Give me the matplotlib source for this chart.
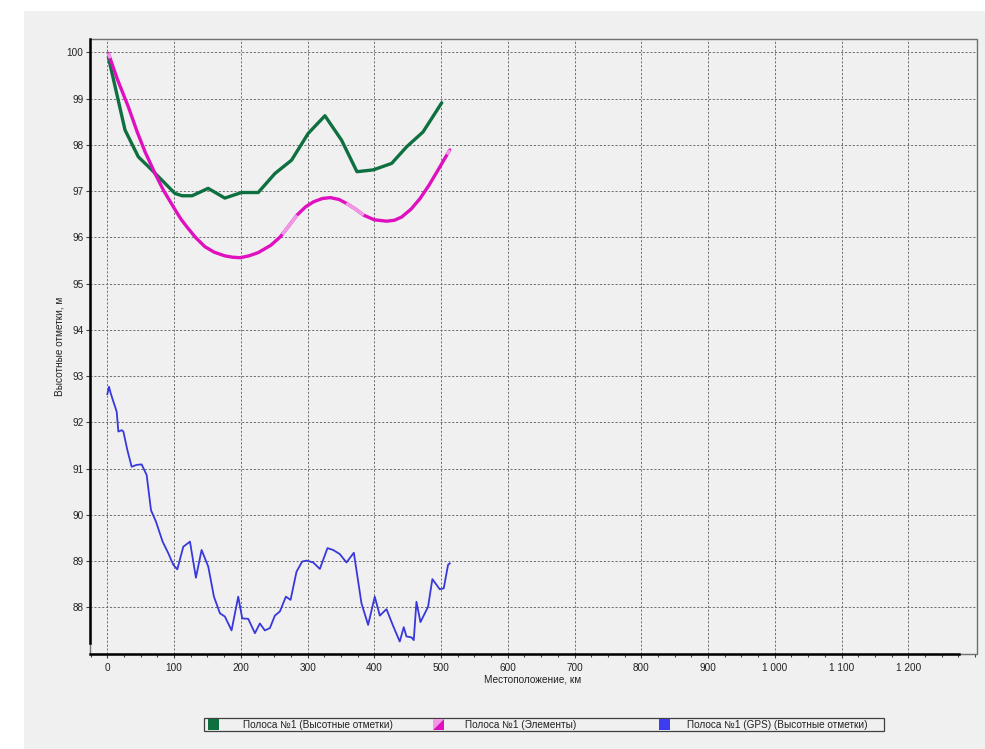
import numpy as np
import matplotlib
matplotlib.use("Agg")
import matplotlib.pyplot as plt
from matplotlib.patches import Rectangle, Polygon
from matplotlib.ticker import MultipleLocator, FuncFormatter

# ---------------- data ----------------
green_km = [1.5, 14, 26.5, 46.5, 61.5, 81.5, 96.5, 101.4, 112, 127, 151, 176, 201, 226, 251, 276,
            301, 326, 351, 374, 398.5, 426, 448.5, 473, 501]
green_m = [99.9, 99.11, 98.32, 97.74, 97.53, 97.24, 97.02, 96.95, 96.90, 96.90, 97.06, 96.85, 96.97,
           96.97, 97.38, 97.67, 98.25, 98.63, 98.10, 97.42, 97.46, 97.60, 97.96, 98.28, 98.91]

elem_km = [1.5, 15, 31.5, 45, 56.5, 71.5, 84, 101.4, 110, 119, 132, 146, 160, 176, 188, 199, 212,
           226, 245, 259, 272, 284, 297, 309, 322, 334, 347, 359, 372, 384, 400, 418.5, 430, 441,
           455, 468.5, 482, 496, 513]
elem_m = [99.98, 99.42, 98.82, 98.27, 97.85, 97.38, 97.02, 96.60, 96.40, 96.23, 96.00, 95.80, 95.68,
          95.60, 95.57, 95.56, 95.60, 95.67, 95.83, 96.01, 96.25, 96.48, 96.66, 96.77, 96.84, 96.86,
          96.82, 96.73, 96.61, 96.48, 96.38, 96.35, 96.37, 96.44, 96.61, 96.84, 97.13, 97.47, 97.89]
# stretches of the element line drawn in the light tone (km ranges)
elem_light = [(0, 4), (262, 284), (358, 384), (509, 513)]

gps_km = [0.0, 2.5, 5.0, 9.0, 14.0, 16.5, 21.5, 24.0, 30.0, 36.4, 43.9, 51.4, 58.9, 65.4, 72.9, 82.8,
          91.3, 98.8, 104.8, 113.8, 123.8, 132.7, 141.2, 151.2, 159.7, 168.7, 176.1, 186.1, 196.1,
          202.1, 211.1, 221.1, 228.5, 236.0, 243.5, 251.0, 258.5, 267.5, 274.5, 283.4, 291.9, 298.4,
          308.4, 318.4, 329.8, 338.3, 348.3, 358.3, 369.3, 380.7, 390.7, 400.7, 408.2, 418.2, 428.1,
          438.1, 444.1, 448.1, 455.6, 459.1, 463.1, 469.1, 480.5, 487.0, 498.0, 504.0, 510.5, 513.0]
gps_m = [92.61, 92.77, 92.63, 92.45, 92.23, 91.80, 91.83, 91.80, 91.40, 91.04, 91.08, 91.09, 90.86,
         90.10, 89.85, 89.42, 89.17, 88.92, 88.82, 89.31, 89.42, 88.64, 89.24, 88.88, 88.23, 87.87,
         87.80, 87.50, 88.23, 87.76, 87.75, 87.44, 87.65, 87.50, 87.55, 87.82, 87.91, 88.23, 88.16,
         88.77, 88.99, 89.01, 88.97, 88.83, 89.28, 89.24, 89.15, 88.97, 89.18, 88.09, 87.62, 88.23,
         87.82, 87.96, 87.60, 87.26, 87.57, 87.37, 87.35, 87.29, 88.12, 87.68, 88.01, 88.61, 88.39,
         88.41, 88.92, 88.95]

legend_labels = ["Полоса №1 (Высотные отметки)", "Полоса №1 (Элементы)",
                 "Полоса №1 (GPS) (Высотные отметки)"]
x_label = "Местоположение, км"
y_label = "Высотные отметки, м"

# ---------------- style ----------------
W, H = 985, 749
C_GREEN = "#0e7040"
C_MAG = "#e010c0"
C_PINK = "#f298e6"
C_BLUE = "#3838dc"
BG = "#f0f0f0"
FONT = "Liberation Sans"
plt.rcParams["font.family"] = [FONT, "DejaVu Sans"]

fig = plt.figure(figsize=(W / 100, H / 100), dpi=100, facecolor="white")


def fx(px):
    return px / W


def fy(py):
    return 1 - py / H


# gray panel
fig.patches.append(Rectangle((fx(24), 0), fx(985) - fx(24), fy(11), transform=fig.transFigure,
                             facecolor=BG, edgecolor="none", zorder=-10))

ax = fig.add_axes([fx(90), fy(654), fx(977) - fx(90), fy(39) - fy(654)])
ax.set_facecolor(BG)

xmin, xmax = -26, 1303
ymin, ymax = 86.99, 100.29
ax.set_xlim(xmin, xmax)
ax.set_ylim(ymin, ymax)

# grid
ax.set_xticks(np.arange(0, 1201, 100))
ax.set_yticks(np.arange(88, 101, 1))
ax.xaxis.set_minor_locator(MultipleLocator(25))
ax.grid(True, which="major", color="#707070", linestyle=(0, (2.2, 1.8)), linewidth=0.7)
ax.set_axisbelow(True)

# frame
for s in ax.spines.values():
    s.set_visible(False)
ax.add_patch(Rectangle((0, 0), 1, 1, transform=ax.transAxes, fill=False,
                       edgecolor="#707070", linewidth=1.0, clip_on=False, zorder=1))
ax.spines["left"].set_visible(True)
ax.spines["bottom"].set_visible(True)
ax.spines["left"].set_color("black")
ax.spines["bottom"].set_color("black")
ax.spines["left"].set_linewidth(1.8)
ax.spines["bottom"].set_linewidth(1.8)
ax.spines["left"].set_bounds(87.23, ymax)
ax.spines["bottom"].set_bounds(xmin, 1276)

ax.tick_params(axis="both", which="major", direction="out", length=3.2, width=0.8,
               color="#404040", labelsize=7.2, labelcolor="#222222")
ax.tick_params(axis="x", which="major", pad=3)
ax.tick_params(axis="y", which="major", pad=1.5)
ax.tick_params(axis="x", which="minor", direction="out", length=2.2, width=0.8, color="#404040")


def fmt_x(v, pos):
    return f"{int(v):,}".replace(",", " ")


ax.xaxis.set_major_formatter(FuncFormatter(fmt_x))

# series
ax.plot(green_km, green_m, color=C_GREEN, linewidth=2.4, solid_joinstyle="round",
        solid_capstyle="round", zorder=3)
ax.plot(elem_km, elem_m, color=C_MAG, linewidth=2.4, solid_joinstyle="round",
        solid_capstyle="round", zorder=4)
for a, b in elem_light:
    xs = np.linspace(max(a, elem_km[0]), min(b, elem_km[-1]), 12)
    ys = np.interp(xs, elem_km, elem_m)
    ax.plot(xs, ys, color=C_PINK, linewidth=2.4, solid_capstyle="butt", zorder=5)
ax.plot(gps_km, gps_m, color=C_BLUE, linewidth=1.3, solid_joinstyle="round", zorder=3)

# axis labels
fig.text(fx(533), fy(680), x_label, ha="center", va="center", fontsize=7.2, color="#222222")
fig.text(fx(60), fy(346), y_label, ha="center", va="center", rotation=90, fontsize=7.2,
         color="#222222")

# legend box (drawn manually)
lx0, lx1, ly0, ly1 = 204, 884, 718, 731
fig.patches.append(Rectangle((fx(lx0), fy(ly1)), fx(lx1) - fx(lx0), fy(ly0) - fy(ly1),
                             transform=fig.transFigure, facecolor=BG, edgecolor="#404040",
                             linewidth=0.9, zorder=2))
sq = [(208, C_GREEN), (433, None), (659, "#3c3cf0")]
txt_x = [243, 465, 687]
for (sx, col), tx, lab in zip(sq, txt_x, legend_labels):
    x0, x1, y0, y1 = sx, sx + 11, ly0 + 1, ly1 - 1
    if col is not None:
        fig.patches.append(Rectangle((fx(x0), fy(y1)), fx(x1) - fx(x0), fy(y0) - fy(y1),
                                     transform=fig.transFigure, facecolor=col,
                                     edgecolor="none", zorder=3))
    else:
        fig.patches.append(Polygon([(fx(x0), fy(y0)), (fx(x1), fy(y0)), (fx(x0), fy(y1))],
                                   closed=True, transform=fig.transFigure, facecolor=C_PINK,
                                   edgecolor="none", zorder=3))
        fig.patches.append(Polygon([(fx(x1), fy(y0)), (fx(x1), fy(y1)), (fx(x0), fy(y1))],
                                   closed=True, transform=fig.transFigure, facecolor=C_MAG,
                                   edgecolor="none", zorder=3))
    fig.text(fx(tx), fy((ly0 + ly1) / 2), lab, ha="left", va="center", fontsize=7.2,
             color="#222222", zorder=4)

fig.savefig("out.png", dpi=100, facecolor="white")
